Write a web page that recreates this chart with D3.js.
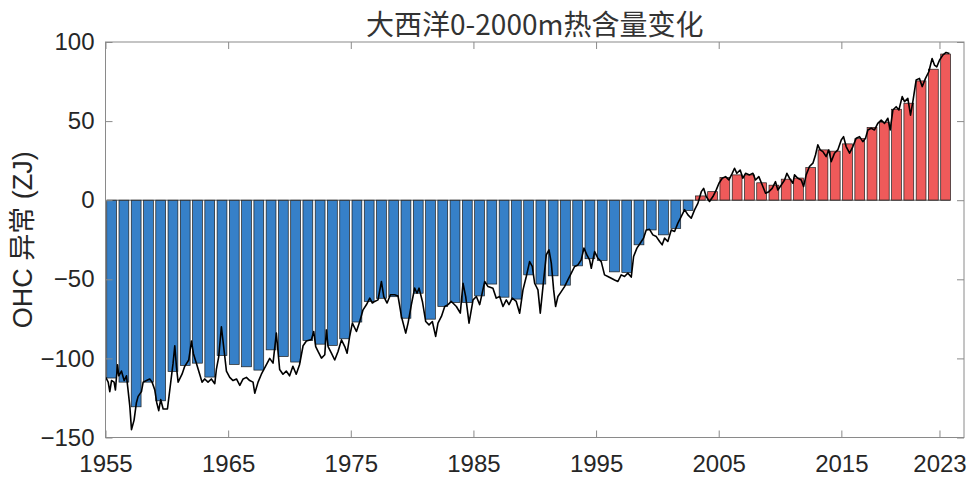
<!DOCTYPE html>
<html>
<head>
<meta charset="utf-8">
<script src="https://cdn.jsdelivr.net/npm/d3@7"></script>
<style>
  body { margin: 0; background: #fff; }
  #wrapper { width: 972px; height: 479px; }
</style>
</head>
<body>
<div id="wrapper"></div>
<script>
// annual means, one bar per year
const years = d3.range(1955, 2024);
const annualOhc = [
  -112.4, -115, -130.6, -115, -126.8, -108.3, -104.5, -103, -111.8, -98.2,
  -103.8, -105.3, -107.4, -94.6, -98.8, -102.3, -88.7, -91, -91.8, -87.6,
  -77, -64, -62, -61, -74.6, -58.8, -75.2, -67.2, -64.7, -64.7,
  -60.5, -53, -61.3, -62.5, -47.2, -53, -47.8, -53.7, -41.5, -37,
  -38.1, -45.3, -45.7, -28.2, -18.8, -21.9, -17.9, -6.5, 2.7, 5.4,
  14.3, 16, 16, 11, 9.5, 13.3, 14, 20.6, 31.8, 31,
  35.6, 38.9, 46, 49.3, 57.5, 61.3, 75.4, 82.8, 92.4
];

// sub-annual series: [time, value]
const monthlyOhc = [
  [1955.02,-112],[1955.22,-115],[1955.35,-121],[1955.49,-114],[1955.70,-115],[1955.81,-120],
  [1955.98,-104],[1956.08,-111],[1956.30,-108],[1956.52,-114],[1956.71,-111],[1956.84,-120],
  [1956.98,-130],[1957.12,-145],[1957.33,-139],[1957.52,-128],[1957.66,-124],[1957.93,-121],
  [1958.07,-115],[1958.34,-114],[1958.61,-113],[1958.80,-115],[1959.02,-120],[1959.18,-128],
  [1959.34,-133],[1959.50,-126],[1959.70,-132],[1960.05,-132],[1960.24,-120],[1960.51,-103],
  [1960.65,-92],[1960.78,-105],[1960.92,-115],[1961.24,-110],[1961.46,-105],[1961.79,-101],
  [1962.01,-89],[1962.17,-97],[1962.41,-103],[1962.68,-110],[1962.87,-115],[1963.09,-113],
  [1963.36,-115],[1963.63,-113],[1963.91,-116],[1964.04,-107],[1964.23,-99],[1964.45,-80],
  [1964.67,-95],[1964.86,-108],[1965.13,-112],[1965.40,-114],[1965.68,-113],[1965.95,-117],
  [1966.22,-113],[1966.49,-112],[1966.76,-114],[1967.03,-115],[1967.17,-122],[1967.44,-115],
  [1967.71,-110],[1968.12,-104],[1968.39,-100],[1968.66,-103],[1968.93,-84],[1969.20,-107],
  [1969.47,-110],[1969.74,-108],[1970.01,-111],[1970.28,-105],[1970.55,-110],[1970.82,-104],
  [1971.11,-92],[1971.38,-89],[1971.79,-88],[1971.98,-83],[1972.14,-92.5],[1972.33,-95.6],
  [1972.61,-99.8],[1972.88,-97.7],[1973.01,-82],[1973.15,-92.5],[1973.42,-96.7],[1973.69,-101],
  [1973.96,-95.6],[1974.24,-88.3],[1974.51,-92.5],[1974.70,-96.7],[1974.91,-86],[1975.13,-77.7],
  [1975.46,-83],[1975.73,-76.7],[1976.00,-69.3],[1976.27,-66.1],[1976.55,-61.9],[1976.76,-65],
  [1976.95,-64],[1977.22,-63],[1977.50,-51.4],[1977.69,-60.9],[1977.96,-65],[1978.23,-59.8],
  [1978.58,-59.8],[1978.85,-60.5],[1979.13,-73.5],[1979.48,-84],[1979.67,-77.7],[1979.94,-66],
  [1980.21,-55.6],[1980.40,-58.8],[1980.57,-55.6],[1980.84,-64],[1981.11,-76.7],[1981.38,-78.8],
  [1981.65,-76.7],[1981.92,-86.1],[1982.11,-77.7],[1982.39,-73.5],[1982.66,-67.2],[1982.93,-66],
  [1983.20,-64],[1983.61,-67.2],[1983.93,-71.4],[1984.15,-52.5],[1984.37,-60.9],[1984.64,-77.7],
  [1984.97,-63],[1985.24,-60.9],[1985.51,-66],[1985.92,-51.4],[1986.19,-54.6],[1986.59,-55.6],
  [1986.86,-61.9],[1987.14,-60.9],[1987.41,-67.2],[1987.68,-63],[1987.90,-66],[1988.17,-61.9],
  [1988.49,-64],[1988.77,-71.4],[1989.04,-56.7],[1989.31,-48.2],[1989.58,-38.8],[1989.80,-41.9],
  [1989.99,-52.5],[1990.26,-56.7],[1990.45,-71.4],[1990.67,-54.6],[1990.94,-34.6],[1991.16,-31.4],
  [1991.35,-39.8],[1991.54,-56.7],[1991.70,-67.2],[1991.89,-60.9],[1992.16,-57.8],[1992.43,-54.6],
  [1992.70,-50.4],[1992.98,-46.1],[1993.25,-41.9],[1993.52,-40.9],[1993.79,-37.7],[1994.01,-30.3],
  [1994.25,-34.6],[1994.47,-37.7],[1994.61,-43],[1994.88,-32.5],[1995.15,-36.7],[1995.42,-38.8],
  [1995.69,-47.2],[1995.96,-48.2],[1996.24,-49.3],[1996.51,-50.4],[1996.78,-51.4],[1997.05,-47.2],
  [1997.32,-48.2],[1997.59,-46.1],[1997.87,-48.6],[1998.06,-35.6],[1998.33,-30.3],[1998.60,-27.2],
  [1998.87,-24],[1999.09,-18.8],[1999.36,-18.4],[1999.63,-21.9],[1999.91,-23],[2000.18,-26.1],
  [2000.39,-28.2],[2000.58,-24],[2000.85,-26.1],[2001.13,-18.8],[2001.40,-19.8],[2001.67,-14.5],
  [2001.90,-11],[2002.22,-6],[2002.49,-9.3],[2002.76,-11.4],[2003.03,-6.1],[2003.30,-2],
  [2003.58,5.4],[2003.77,7.5],[2003.98,2.3],[2004.25,-0.8],[2004.53,2.3],[2004.80,6.5],
  [2005.02,10.7],[2005.29,13.9],[2005.56,14.9],[2005.83,12.8],[2006.10,17],[2006.29,20.2],
  [2006.48,17],[2006.75,19.1],[2006.97,13.9],[2007.19,17],[2007.51,16],[2007.79,17],
  [2008.00,12.8],[2008.27,14.9],[2008.55,9.6],[2008.82,4.4],[2009.09,5.4],[2009.36,7.5],
  [2009.63,11.7],[2009.82,6.5],[2010.10,9.6],[2010.37,12.8],[2010.56,17],[2010.77,13.9],
  [2011.05,10.7],[2011.18,16],[2011.45,13.9],[2011.73,12.8],[2011.92,8.6],[2012.13,16],
  [2012.40,21.3],[2012.68,23.4],[2012.89,28.6],[2013.08,35],[2013.27,31.8],[2013.49,30.7],
  [2013.76,27.6],[2013.98,31.8],[2014.17,24.4],[2014.44,29.7],[2014.71,31.8],[2014.99,38.1],
  [2015.18,40.2],[2015.39,33.9],[2015.67,29.7],[2015.94,33.9],[2016.21,39.2],[2016.48,40.2],
  [2016.75,37],[2016.97,39.2],[2017.16,44.4],[2017.43,45.5],[2017.70,44.4],[2017.97,48.6],
  [2018.25,50.7],[2018.52,48.6],[2018.79,51.8],[2018.98,44.4],[2019.20,57],[2019.47,59.1],
  [2019.69,57],[2019.96,65.5],[2020.15,62.3],[2020.42,64.4],[2020.64,53.8],[2020.83,62.3],
  [2021.10,76],[2021.37,77],[2021.59,71.8],[2021.86,77],[2022.13,81.2],[2022.40,89.6],
  [2022.59,85.4],[2022.78,84.3],[2023.00,88.5],[2023.27,91.7],[2023.54,93.4],[2023.81,92.7]
];

const xTicks = [1955, 1965, 1975, 1985, 1995, 2005, 2015, 2023];
const yTicks = [-150, -100, -50, 0, 50, 100];
const titleText = "大西洋0-2000m热含量变化";
const yLabelText = "OHC 异常 (ZJ)";

function draw() {
  const dimensions = {
    width: 972,
    height: 479,
    margin: { top: 42, right: 8, bottom: 41.5, left: 105.5 }
  };
  dimensions.boundedWidth = dimensions.width - dimensions.margin.left - dimensions.margin.right;
  dimensions.boundedHeight = dimensions.height - dimensions.margin.top - dimensions.margin.bottom;

  const wrapper = d3.select("#wrapper")
    .append("svg")
      .attr("width", dimensions.width)
      .attr("height", dimensions.height)
      .style("font-family", "'Liberation Sans', Arial, sans-serif");

  wrapper.append("rect")
    .attr("width", dimensions.width)
    .attr("height", dimensions.height)
    .attr("fill", "#fff");

  const bounds = wrapper.append("g")
    .attr("transform", "translate(" + dimensions.margin.left + "," + dimensions.margin.top + ")");

  // Scales
  const x = d3.scaleLinear().domain([1955, 2025]).range([0, dimensions.boundedWidth]);
  const y = d3.scaleLinear().domain([-150, 100]).range([dimensions.boundedHeight, 0]);

  const barWidth = x(1955.8) - x(1955);

  // bars
  bounds.append("g")
    .selectAll("rect")
    .data(years.map((yr, i) => ({ year: yr, value: annualOhc[i] })))
    .join("rect")
      .attr("x", d => x(d.year + 0.5) - barWidth / 2)
      .attr("width", barWidth)
      .attr("y", d => y(Math.max(0, d.value)))
      .attr("height", d => Math.abs(y(d.value) - y(0)))
      .attr("fill", d => d.value < 0 ? "#3680C8" : "#EF5A5A")
      .attr("stroke", "#1e1e1e")
      .attr("stroke-width", 0.7);

  // baseline
  bounds.append("line")
    .attr("x1", x(1955.1))
    .attr("x2", x(2023.9))
    .attr("y1", y(0))
    .attr("y2", y(0))
    .attr("stroke", "#333")
    .attr("stroke-width", 0.8);

  // black curve
  const line = d3.line()
    .x(d => x(d[0]))
    .y(d => y(d[1]));

  bounds.append("path")
    .attr("d", line(monthlyOhc))
    .attr("fill", "none")
    .attr("stroke", "#000")
    .attr("stroke-width", 1.6)
    .attr("stroke-linejoin", "round");

  // axes
  const tickLen = 7;
  const axisColor = "#8a8a8a";

  const xAxis = bounds.append("g")
    .attr("transform", "translate(0," + dimensions.boundedHeight + ")")
    .call(d3.axisBottom(x).tickValues(xTicks).tickFormat(d3.format("d"))
      .tickSizeInner(-tickLen).tickSizeOuter(0).tickPadding(17.5));
  const yAxis = bounds.append("g")
    .call(d3.axisLeft(y).tickValues(yTicks)
      .tickSizeInner(-tickLen).tickSizeOuter(0).tickPadding(11));
  const xTop = bounds.append("g")
    .call(d3.axisTop(x).tickValues(xTicks).tickFormat("")
      .tickSizeInner(-tickLen).tickSizeOuter(0));
  const yRight = bounds.append("g")
    .attr("transform", "translate(" + dimensions.boundedWidth + ",0)")
    .call(d3.axisRight(y).tickValues(yTicks).tickFormat("")
      .tickSizeInner(-tickLen).tickSizeOuter(0));

  [xAxis, yAxis, xTop, yRight].forEach(a => {
    a.select(".domain").remove();
    a.selectAll(".tick line").attr("stroke", axisColor);
    a.selectAll(".tick text")
      .attr("fill", "#262626")
      .style("font-size", "24px")
      .style("font-family", "'Liberation Sans', Arial, sans-serif");
  });

  // frame
  bounds.append("rect")
    .attr("width", dimensions.boundedWidth)
    .attr("height", dimensions.boundedHeight)
    .attr("fill", "none")
    .attr("stroke", axisColor)
    .attr("stroke-width", 1);

  // title
  wrapper.append("text")
    .attr("x", dimensions.margin.left + dimensions.boundedWidth / 2)
    .attr("y", 35)
    .attr("text-anchor", "middle")
    .attr("fill", "#333")
    .style("font-family", "'Noto Sans CJK SC', sans-serif")
    .style("font-size", "28px")
    .text(titleText);

  // y label
  wrapper.append("text")
    .attr("transform", "translate(32," + (dimensions.margin.top + dimensions.boundedHeight / 2) + ") rotate(-90)")
    .attr("text-anchor", "middle")
    .attr("fill", "#262626")
    .style("font-family", "'Liberation Sans', 'Noto Sans CJK SC', sans-serif")
    .style("font-size", "27px")
    .text(yLabelText);
}
draw();
</script>
</body>
</html>
